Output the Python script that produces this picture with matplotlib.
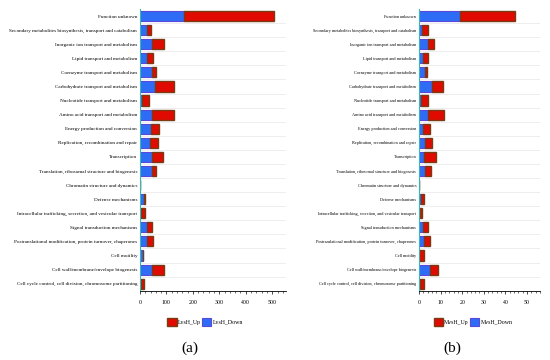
#!/usr/bin/env python3
"""COG functional classification of DEGs: stacked up/down bars for two comparisons."""
import matplotlib
matplotlib.use("Agg")
import matplotlib.pyplot as plt
from matplotlib.patches import Patch
from matplotlib.ticker import AutoMinorLocator, MultipleLocator

categories = [
    "Function unknown",
    "Secondary metabolites biosynthesis, transport and catabolism",
    "Inorganic ion transport and metabolism",
    "Lipid transport and metabolism",
    "Coenzyme transport and metabolism",
    "Carbohydrate transport and metabolism",
    "Nucleotide transport and metabolism",
    "Amino acid transport and metabolism",
    "Energy production and conversion",
    "Replication, recombination and repair",
    "Transcription",
    "Translation, ribosomal structure and biogenesis",
    "Chromatin structure and dynamics",
    "Defense mechanisms",
    "Intracellular trafficking, secretion, and vesicular transport",
    "Signal transduction mechanisms",
    "Postranslational modification, protein turnover, chaperones",
    "Cell motility",
    "Cell wall/membrane/envelope biogenesis",
    "Cell cycle control, cell division, chromosome partitioning",
]

# panel (a): LvsH
lvsh_down = [168, 25, 47, 25, 45, 58, 8, 46, 41, 38, 44, 44, 1, 15, 5, 25, 27, 12, 46, 3]
lvsh_up = [337, 15, 42, 26, 16, 70, 27, 81, 32, 30, 42, 17, 0, 4, 13, 21, 21, 0, 45, 12]

# panel (b): MvsH
mvsh_down = [19, 1.5, 4, 2, 3, 6, 1, 4, 2, 3, 2.5, 3, 0, 1, 0.5, 2, 2.5, 0, 5, 0.5]
mvsh_up = [25.5, 2.5, 3, 2.3, 0.8, 5, 3, 7.5, 3, 3, 5.3, 2.7, 0.2, 1.2, 0.8, 2, 2.6, 2.3, 4, 1.7]

UP_FACE, UP_EDGE = "#e00a00", "#7a3a12"
DOWN_FACE, DOWN_EDGE = "#2f6cf6", "#5a48d8"
SERIF = ["Liberation Serif", "DejaVu Serif"]

plt.rcParams["font.family"] = SERIF

fig = plt.figure(figsize=(5.5, 3.6), dpi=100)
ax_a = fig.add_axes([0.2545, 0.1925, 0.2655, 0.7825])
ax_b = fig.add_axes([0.7618, 0.1925, 0.22, 0.7825])


def draw(ax, down, up, xmax, major, label_size, names):
    y = list(range(len(categories)))
    ax.barh(y, down, height=0.72, color=DOWN_FACE, edgecolor=DOWN_EDGE, linewidth=0.8)
    ax.barh(y, up, left=down, height=0.72, color=UP_FACE, edgecolor=UP_EDGE, linewidth=1.0)
    ax.set_ylim(len(categories) - 0.5, -0.5)
    ax.set_xlim(0, xmax)
    ax.set_yticks(y)
    ax.set_yticklabels(categories, fontsize=label_size)
    ax.set_yticks([i + 0.5 for i in y[:-1]], minor=True)
    ax.grid(True, axis="y", which="minor", color="#e8e8e8", linewidth=0.5)
    ax.set_axisbelow(True)
    ax.xaxis.set_major_locator(MultipleLocator(major))
    ax.xaxis.set_minor_locator(AutoMinorLocator(5))
    ax.tick_params(axis="x", which="major", labelsize=4.2, length=2.0, width=0.5, pad=5)
    ax.tick_params(axis="x", which="minor", length=1.2, width=0.4)
    ax.tick_params(axis="y", which="both", length=0, pad=2)
    for side in ("top", "right"):
        ax.spines[side].set_visible(False)
    ax.spines["bottom"].set_linewidth(0.6)
    ax.spines["left"].set_color("#36b8b8")
    ax.spines["left"].set_linewidth(0.8)
    handles = [Patch(facecolor=UP_FACE, edgecolor=UP_EDGE, linewidth=1.0, label=names[0]),
               Patch(facecolor=DOWN_FACE, edgecolor=DOWN_EDGE, linewidth=0.8, label=names[1])]
    return handles


h_a = draw(ax_a, lvsh_down, lvsh_up, 552, 100, 3.7, ("LvsH_Up", "LvsH_Down"))
h_b = draw(ax_b, mvsh_down, mvsh_up, 56, 10, 3.1, ("MvsH_Up", "MvsH_Down"))

for handles, cx in ((h_a, 0.373), (h_b, 0.86)):
    fig.legend(handles=handles, loc="center", bbox_to_anchor=(cx, 0.106), ncols=2,
               frameon=False, fontsize=4.2, handlelength=1.6, handleheight=1.6,
               handletextpad=0.2, columnspacing=0.2)

fig.text(0.345, 0.033, "(a)", ha="center", va="center", fontsize=11)
fig.text(0.822, 0.033, "(b)", ha="center", va="center", fontsize=11)

fig.savefig("out.png", dpi=100)
